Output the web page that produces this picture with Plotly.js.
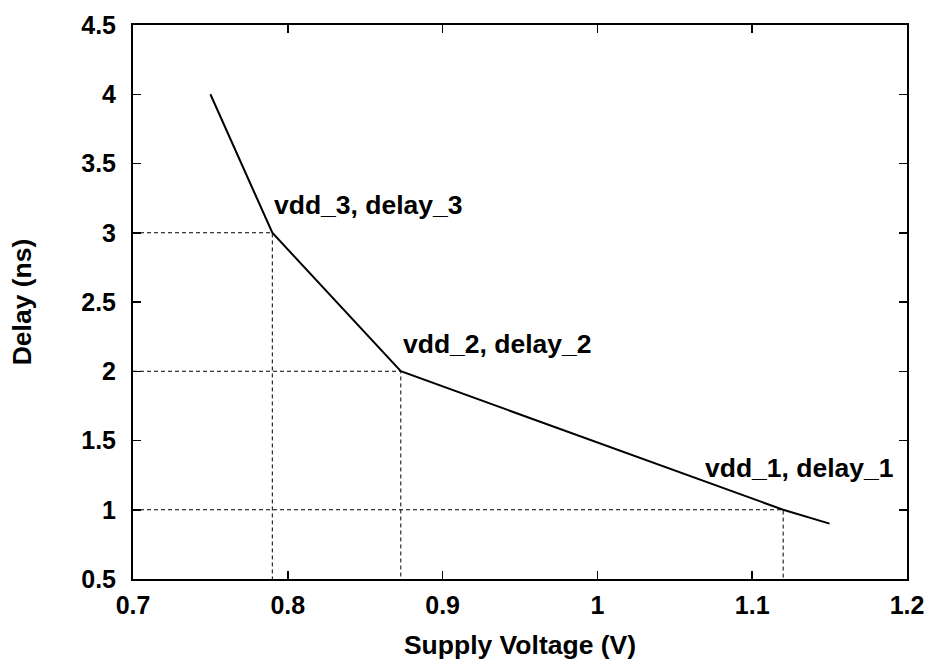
<!DOCTYPE html>
<html>
<head>
<meta charset="utf-8">
<script src="https://cdn.plot.ly/plotly-3.0.1.min.js"></script>
<style>html,body{margin:0;padding:0;background:#fff;}#chart{width:935px;height:662px;}</style>
</head>
<body>
<div id="chart"></div>
<script>
// Curve data
const voltage = [0.75, 0.79, 0.873, 1.12, 1.15];
const delay = [4, 3, 2, 1, 0.9];
// Marked operating points
const pointVdd = [1.12, 0.873, 0.79];
const pointDelay = [1, 2, 3];
const pointLabels = ["vdd_1, delay_1", "vdd_2, delay_2", "vdd_3, delay_3"];
// Label anchor positions (data coords)
const labelX = [1.068, 0.873, 0.79];
const labelY = [1.3, 2.2, 3.2];
// Axes
const xRange = [0.7, 1.2];
const yRange = [0.5, 4.5];
const xTicks = [0.7, 0.8, 0.9, 1, 1.1, 1.2];
const xTickText = ["0.7", "0.8", "0.9", "1", "1.1", "1.2"];
const yTicks = [0.5, 1, 1.5, 2, 2.5, 3, 3.5, 4, 4.5];
const yTickText = ["0.5", "1", "1.5", "2", "2.5", "3", "3.5", "4", "4.5"];

const FONT = "Liberation Sans, Arial, Helvetica, sans-serif";

const traces = [];
// dashed guide lines
pointVdd.forEach((v, i) => {
  traces.push({
    x: [xRange[0], v, v],
    y: [pointDelay[i], pointDelay[i], yRange[0]],
    mode: "lines",
    line: {color: "#000", width: 1, dash: "4px,3px"},
    hoverinfo: "skip",
    showlegend: false
  });
});
traces.push({
  x: voltage,
  y: delay,
  mode: "lines",
  line: {color: "#000", width: 2},
  showlegend: false
});

const annotations = pointLabels.map((t, i) => ({
  x: labelX[i], y: labelY[i], xref: "x", yref: "y",
  text: t, showarrow: false, xanchor: "left", yanchor: "middle",
  font: {family: FONT, size: 26.5, color: "#000", weight: "bold"}
}));

const axisCommon = {
  showgrid: false, zeroline: false,
  showline: true, linecolor: "#000", linewidth: 2, mirror: "ticks",
  ticks: "inside", ticklen: 8, tickwidth: 1.5, tickcolor: "#000",
  tickfont: {family: FONT, size: 25, color: "#000", weight: "bold"}
};

const layout = {
  width: 935, height: 662,
  margin: {l: 133, r: 28, t: 25, b: 83},
  paper_bgcolor: "#fff", plot_bgcolor: "#fff",
  xaxis: Object.assign({}, axisCommon, {
    range: xRange, tickvals: xTicks, ticktext: xTickText,
    ticklabelstandoff: 3,
    title: {text: "Supply Voltage (V)", standoff: 17,
      font: {family: FONT, size: 26.5, color: "#000", weight: "bold"}}
  }),
  yaxis: Object.assign({}, axisCommon, {
    range: yRange, tickvals: yTicks, ticktext: yTickText,
    ticklabelstandoff: 10,
    title: {text: "Delay (ns)", standoff: 42,
      font: {family: FONT, size: 26.5, color: "#000", weight: "bold"}}
  }),
  annotations: annotations
};

Plotly.newPlot("chart", traces, layout, {displayModeBar: false, staticPlot: true});
</script>
</body>
</html>
